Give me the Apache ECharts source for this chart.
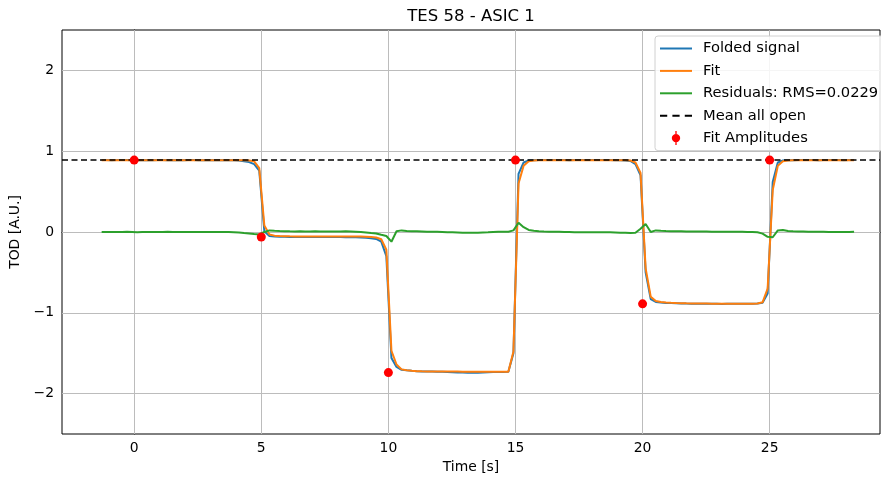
<!DOCTYPE html>
<html>
<head>
<meta charset="utf-8">
<script src="https://cdn.jsdelivr.net/npm/echarts@6/dist/echarts.min.js"></script>
<style>html,body{margin:0;padding:0;background:#fff}#c{width:881px;height:479px}</style>
</head>
<body>
<div id="c"></div>
<script>
const titleText = 'TES 58 - ASIC 1';
const xName = 'Time [s]';
const yName = 'TOD [A.U.]';
const xTicks = [0, 5, 10, 15, 20, 25];
const yTicks = [-2, -1, 0, 1, 2];

const times = [
  -1.28, -1.08, -0.88, -0.68, -0.48,
  -0.28, -0.08, 0.12, 0.32, 0.52,
  0.72, 0.92, 1.12, 1.32, 1.52,
  1.72, 1.92, 2.12, 2.32, 2.52,
  2.72, 2.92, 3.12, 3.32, 3.52,
  3.72, 3.92, 4.12, 4.32, 4.52,
  4.72, 4.92, 5.12, 5.32, 5.52,
  5.72, 5.92, 6.12, 6.32, 6.52,
  6.72, 6.92, 7.12, 7.32, 7.52,
  7.72, 7.92, 8.12, 8.32, 8.52,
  8.72, 8.92, 9.12, 9.32, 9.52,
  9.72, 9.92, 10.12, 10.32, 10.52,
  10.72, 10.92, 11.12, 11.32, 11.52,
  11.72, 11.92, 12.12, 12.32, 12.52,
  12.72, 12.92, 13.12, 13.32, 13.52,
  13.72, 13.92, 14.12, 14.32, 14.52,
  14.72, 14.92, 15.12, 15.32, 15.52,
  15.72, 15.92, 16.12, 16.32, 16.52,
  16.72, 16.92, 17.12, 17.32, 17.52,
  17.72, 17.92, 18.12, 18.32, 18.52,
  18.72, 18.92, 19.12, 19.32, 19.52,
  19.72, 19.92, 20.12, 20.32, 20.52,
  20.72, 20.92, 21.12, 21.32, 21.52,
  21.72, 21.92, 22.12, 22.32, 22.52,
  22.72, 22.92, 23.12, 23.32, 23.52,
  23.72, 23.92, 24.12, 24.32, 24.52,
  24.72, 24.92, 25.12, 25.32, 25.52,
  25.72, 25.92, 26.12, 26.32, 26.52,
  26.72, 26.92, 27.12, 27.32, 27.52,
  27.72, 27.92, 28.12, 28.32
];

const folded = [
  0.890, 0.891, 0.889, 0.890, 0.892,
  0.891, 0.889, 0.890, 0.888, 0.890,
  0.889, 0.891, 0.890, 0.889, 0.888,
  0.890, 0.889, 0.891, 0.890, 0.889,
  0.889, 0.890, 0.888, 0.890, 0.889,
  0.889, 0.888, 0.886, 0.876, 0.865,
  0.840, 0.760, 0.010, -0.050, -0.055,
  -0.058, -0.060, -0.062, -0.062, -0.063,
  -0.063, -0.062, -0.062, -0.063, -0.062,
  -0.062, -0.062, -0.063, -0.064, -0.064,
  -0.066, -0.068, -0.072, -0.078, -0.086,
  -0.120, -0.300, -1.560, -1.670, -1.705,
  -1.712, -1.718, -1.722, -1.725, -1.727,
  -1.728, -1.730, -1.731, -1.733, -1.735,
  -1.738, -1.740, -1.742, -1.742, -1.741,
  -1.738, -1.735, -1.733, -1.732, -1.732,
  -1.730, -1.500, 0.720, 0.860, 0.885,
  0.889, 0.890, 0.890, 0.891, 0.890,
  0.890, 0.890, 0.889, 0.890, 0.890,
  0.890, 0.891, 0.890, 0.890, 0.890,
  0.890, 0.889, 0.888, 0.886, 0.880,
  0.840, 0.700, -0.500, -0.830, -0.865,
  -0.872, -0.878, -0.880, -0.882, -0.884,
  -0.886, -0.887, -0.888, -0.888, -0.889,
  -0.889, -0.889, -0.890, -0.889, -0.889,
  -0.889, -0.888, -0.888, -0.887, -0.885,
  -0.875, -0.760, 0.620, 0.860, 0.885,
  0.888, 0.889, 0.890, 0.890, 0.890,
  0.890, 0.889, 0.890, 0.891, 0.890,
  0.890, 0.889, 0.890, 0.890
];

const fit = [
  0.889, 0.889, 0.889, 0.889, 0.889,
  0.889, 0.889, 0.889, 0.889, 0.889,
  0.889, 0.889, 0.889, 0.889, 0.889,
  0.889, 0.889, 0.889, 0.889, 0.889,
  0.889, 0.889, 0.889, 0.889, 0.889,
  0.889, 0.889, 0.889, 0.888, 0.886,
  0.875, 0.790, 0.080, -0.030, -0.045,
  -0.050, -0.052, -0.054, -0.055, -0.056,
  -0.056, -0.056, -0.056, -0.055, -0.055,
  -0.055, -0.055, -0.055, -0.055, -0.055,
  -0.055, -0.056, -0.058, -0.062, -0.068,
  -0.090, -0.220, -1.470, -1.640, -1.700,
  -1.712, -1.718, -1.722, -1.724, -1.725,
  -1.726, -1.727, -1.727, -1.728, -1.728,
  -1.728, -1.729, -1.729, -1.729, -1.729,
  -1.729, -1.729, -1.729, -1.729, -1.729,
  -1.729, -1.480, 0.600, 0.820, 0.875,
  0.884, 0.887, 0.888, 0.889, 0.889,
  0.889, 0.889, 0.889, 0.889, 0.889,
  0.889, 0.889, 0.889, 0.889, 0.889,
  0.889, 0.889, 0.889, 0.888, 0.885,
  0.860, 0.730, -0.450, -0.800, -0.855,
  -0.865, -0.872, -0.876, -0.879, -0.881,
  -0.883, -0.884, -0.885, -0.886, -0.886,
  -0.887, -0.887, -0.887, -0.887, -0.887,
  -0.887, -0.887, -0.887, -0.887, -0.886,
  -0.870, -0.700, 0.520, 0.820, 0.875,
  0.884, 0.887, 0.888, 0.889, 0.889,
  0.889, 0.889, 0.889, 0.889, 0.889,
  0.889, 0.889, 0.889, 0.889
];

const residuals = [
  0.000, 0.001, 0.001, 0.000, 0.001,
  0.002, 0.000, -0.002, 0.000, 0.001,
  0.001, 0.000, 0.001, 0.002, 0.001,
  0.000, -0.001, 0.000, 0.001, 0.000,
  0.000, 0.001, 0.000, -0.001, 0.000,
  -0.001, -0.002, -0.005, -0.012, -0.018,
  -0.025, -0.030, 0.000, 0.020, 0.015,
  0.012, 0.010, 0.008, 0.007, 0.008,
  0.007, 0.006, 0.008, 0.007, 0.006,
  0.007, 0.006, 0.007, 0.008, 0.006,
  0.004, 0.001, -0.005, -0.012, -0.018,
  -0.035, -0.050, -0.120, 0.010, 0.020,
  0.012, 0.010, 0.008, 0.006, 0.004,
  0.003, 0.002, 0.000, -0.002, -0.004,
  -0.006, -0.008, -0.010, -0.009, -0.008,
  -0.005, -0.003, 0.000, 0.002, 0.003,
  0.004, 0.020, 0.115, 0.060, 0.025,
  0.015, 0.008, 0.005, 0.004, 0.003,
  0.002, 0.001, 0.000, -0.002, -0.003,
  -0.003, -0.004, -0.004, -0.003, -0.004,
  -0.004, -0.006, -0.008, -0.010, -0.012,
  -0.010, 0.040, 0.100, 0.000, 0.020,
  0.015, 0.012, 0.010, 0.008, 0.008,
  0.007, 0.006, 0.006, 0.005, 0.005,
  0.004, 0.004, 0.003, 0.004, 0.003,
  0.003, 0.002, 0.001, 0.000, -0.003,
  -0.020, -0.060, -0.065, 0.020, 0.025,
  0.012, 0.008, 0.006, 0.005, 0.004,
  0.003, 0.002, 0.002, 0.001, 0.000,
  0.000, -0.001, 0.000, 0.002
];

const ampTimes = [0, 5, 10, 15, 20, 25];
const ampValues = [0.89, -0.062, -1.74, 0.89, -0.889, 0.89];
const meanAllOpen = 0.894;

const seriesNames = ['Folded signal', 'Fit', 'Residuals: RMS=0.0229', 'Mean all open', 'Fit Amplitudes'];
const FONT = 'DejaVu Sans';

const zip = (xs, ys) => xs.map((x, i) => [x, ys[i]]);
const fmt = v => (v < 0 ? '\u2212' + (-v) : String(v));

const chart = echarts.init(document.getElementById('c'), null, { renderer: 'canvas' });
const lineIcon = 'path://M0,0 L32,0 L32,2 L0,2 Z';
const dashIcon = 'path://M0,0 L7,0 L7,2 L0,2 Z M12,0 L19,0 L19,2 L12,2 Z M24,0 L31,0 L31,2 L24,2 Z';
const errIcon = 'path://M-0.7,-7.5 L0.7,-7.5 L0.7,7.5 L-0.7,7.5 Z M4.5,0 A4.5,4.5 0 1 1 -4.5,0 A4.5,4.5 0 1 1 4.5,0 Z';

chart.setOption({
  animation: false,
  backgroundColor: '#fff',
  textStyle: { fontFamily: FONT },
  graphic: [{
    type: 'text', x: 471, y: 17,
    style: { text: titleText, font: '16.5px "DejaVu Sans"', fill: '#000', textAlign: 'center', textVerticalAlign: 'middle' }
  }],
  grid: { left: 62, right: 1, top: 30, bottom: 45, show: true, borderColor: '#000', borderWidth: 1, backgroundColor: '#fff' },
  legend: {
    left: 655, top: 36, orient: 'vertical',
    data: [
      { name: seriesNames[0], icon: lineIcon, itemStyle: { color: '#1f77b4' } },
      { name: seriesNames[1], icon: lineIcon, itemStyle: { color: '#ff7f0e' } },
      { name: seriesNames[2], icon: lineIcon, itemStyle: { color: '#2ca02c' } },
      { name: seriesNames[3], icon: dashIcon, itemStyle: { color: '#000' } },
      { name: seriesNames[4], icon: errIcon, itemStyle: { color: '#ff0000' } }
    ],
    itemWidth: 32, itemHeight: 14, itemGap: 7.4,
    padding: [5, 6, 5, 5],
    backgroundColor: 'rgba(255,255,255,0.85)', borderColor: '#d0d0d0', borderWidth: 1, borderRadius: 3,
    textStyle: { fontFamily: FONT, fontSize: 14.7, lineHeight: 14, color: '#000', padding: [0, 0, 0, 6] }
  },
  xAxis: {
    type: 'value', min: -2.84, max: 29.34,
    name: xName, nameLocation: 'middle', nameGap: 25,
    nameTextStyle: { fontFamily: FONT, fontSize: 13.9, color: '#000' },
    axisLine: { show: true, lineStyle: { color: '#000', width: 1 } },
    axisTick: { show: true, length: 5, lineStyle: { color: '#000' }, customValues: xTicks },
    axisLabel: { customValues: xTicks, formatter: fmt, fontFamily: FONT, fontSize: 13.9, color: '#000', margin: 7 },
    splitLine: { show: false }
  },
  yAxis: {
    type: 'value', min: -2.5, max: 2.5,
    name: yName, nameLocation: 'middle', nameGap: 36, nameRotate: 90,
    nameTextStyle: { fontFamily: FONT, fontSize: 13.9, color: '#000' },
    axisLine: { show: true, lineStyle: { color: '#000', width: 1 } },
    axisTick: { show: true, length: 5, lineStyle: { color: '#000' }, customValues: yTicks },
    axisLabel: { customValues: yTicks, formatter: fmt, fontFamily: FONT, fontSize: 13.9, color: '#000', margin: 8 },
    splitLine: { show: false }
  },
  series: [
    {
      name: '_grid', type: 'line', data: [], z: 1, silent: true,
      markLine: {
        z: 1, silent: true, symbol: ['none', 'none'], label: { show: false },
        lineStyle: { color: '#bcbcbc', width: 1, type: 'solid' },
        emphasis: { disabled: true },
        data: xTicks.map(v => ({ xAxis: v })).concat(yTicks.map(v => ({ yAxis: v })))
      }
    },
    {
      name: seriesNames[0], type: 'line', data: zip(times, folded), symbol: 'none',
      lineStyle: { color: '#1f77b4', width: 2 }, itemStyle: { color: '#1f77b4' }, z: 2
    },
    {
      name: seriesNames[1], type: 'line', data: zip(times, fit), symbol: 'none',
      lineStyle: { color: '#ff7f0e', width: 2 }, itemStyle: { color: '#ff7f0e' }, z: 2
    },
    {
      name: seriesNames[2], type: 'line', data: zip(times, residuals), symbol: 'none',
      lineStyle: { color: '#2ca02c', width: 2 }, itemStyle: { color: '#2ca02c' }, z: 2
    },
    {
      name: seriesNames[3], type: 'line', data: [], symbol: 'none',
      lineStyle: { color: '#000', width: 1.6, type: [6, 3.5] }, itemStyle: { color: '#000' }, z: 3,
      markLine: {
        z: 3, silent: true, symbol: ['none', 'none'], label: { show: false },
        lineStyle: { color: '#000', width: 1.6, type: [6, 3.5] },
        data: [{ yAxis: meanAllOpen }]
      }
    },
    {
      name: seriesNames[4], type: 'scatter', data: zip(ampTimes, ampValues),
      symbol: 'circle', symbolSize: 9, itemStyle: { color: '#ff0000', opacity: 1 }, z: 4
    }
  ]
});
</script>
</body>
</html>
